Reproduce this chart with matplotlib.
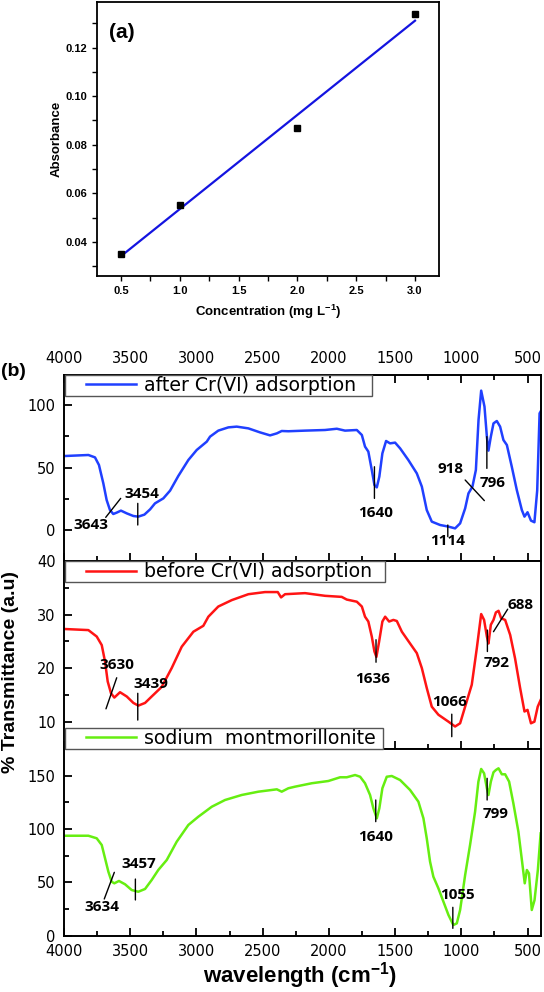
import numpy as np
import matplotlib
matplotlib.use("Agg")
import matplotlib.pyplot as plt
from matplotlib.ticker import MultipleLocator, FormatStrFormatter
from matplotlib.legend_handler import HandlerLine2D

plt.rcParams['mathtext.fontset'] = 'custom'
plt.rcParams['mathtext.rm'] = 'Liberation Sans'
plt.rcParams['mathtext.bf'] = 'Liberation Sans:bold'

# ---------------- data: panel (a) ----------------
conc = [0.5, 1.0, 2.0, 3.0]
absorb = [0.035, 0.055, 0.087, 0.134]

# ---------------- data: panel (b) FTIR spectra ----------------
wn_after = [3992, 3816, 3766, 3736, 3703, 3678, 3653, 3628, 3602, 3570, 3526, 3476, 3439, 3393,
            3350, 3313, 3250, 3199, 3137, 3061, 2998, 2922, 2897, 2835, 2759, 2696, 2608, 2520,
            2444, 2393, 2356, 2306, 2180, 2029, 1940, 1878, 1789, 1751, 1727, 1702, 1676, 1656,
            1638, 1619, 1596, 1568, 1538, 1500, 1462, 1400, 1336, 1298, 1261, 1223, 1160, 1097,
            1047, 1009, 971, 946, 916, 890, 870, 850, 825, 807, 795, 777, 757, 732, 707, 682,
            656, 619, 581, 543, 523, 500, 474, 448, 427, 409, 400]
tr_after = [59.2, 60.0, 58.1, 52.0, 37.3, 24.0, 16.0, 12.8, 13.9, 15.5, 13.3, 11.2, 10.7, 12.3,
            16.5, 21.3, 25.3, 31.5, 43.2, 56.0, 64.0, 70.7, 74.7, 79.5, 82.1, 82.7, 81.3, 78.1,
            75.7, 77.3, 79.2, 79.0, 79.5, 80.0, 81.0, 79.5, 80.0, 76.0, 66.7, 62.7, 48.0, 36.0,
            34.1, 42.7, 61.3, 71.2, 69.3, 69.9, 65.3, 56.0, 45.3, 34.7, 16.0, 6.7, 4.0, 2.7,
            1.3, 5.3, 17.3, 29.3, 34.7, 48.0, 88.0, 111.5, 98.7, 74.7, 63.5, 74.7, 85.3, 87.2,
            82.7, 72.0, 68.0, 50.7, 32.0, 16.0, 10.7, 14.2, 7.5, 6.2, 31.6, 93.3, 95.0]

wn_before = [3992, 3816, 3753, 3715, 3690, 3670, 3645, 3620, 3577, 3526, 3476, 3439, 3388, 3338,
             3262, 3187, 3111, 3023, 2948, 2910, 2835, 2733, 2608, 2482, 2386, 2361, 2331, 2180,
             2029, 1903, 1865, 1789, 1751, 1727, 1702, 1676, 1656, 1641, 1621, 1596, 1575, 1545,
             1513, 1487, 1449, 1387, 1336, 1298, 1261, 1223, 1173, 1097, 1047, 1009, 959, 921,
             883, 850, 828, 807, 795, 777, 757, 739, 719, 699, 669, 631, 594, 556, 523, 500,
             474, 448, 423, 400]
tr_before = [27.3, 27.1, 25.9, 24.3, 21.2, 17.5, 15.3, 14.5, 15.5, 14.7, 13.5, 13.0, 13.5, 14.7,
             16.5, 20.0, 24.0, 26.8, 27.9, 29.6, 31.5, 32.7, 33.8, 34.2, 34.2, 33.2, 33.8, 34.0,
             33.5, 33.3, 32.8, 32.4, 31.5, 29.6, 28.7, 25.9, 23.1, 22.1, 24.9, 28.7, 29.6, 28.7,
             29.0, 28.8, 26.8, 24.6, 22.8, 20.0, 16.3, 12.8, 11.3, 10.0, 9.1, 9.7, 13.8, 16.9,
             23.7, 30.1, 29.0, 25.9, 24.6, 28.1, 29.0, 30.4, 30.7, 29.3, 29.0, 26.2, 21.8, 16.3,
             11.9, 12.2, 9.7, 10.0, 12.8, 14.1]

wn_na = [3992, 3816, 3753, 3715, 3690, 3665, 3640, 3620, 3585, 3539, 3489, 3439, 3388, 3338,
         3288, 3224, 3149, 3061, 2986, 2884, 2784, 2658, 2532, 2393, 2356, 2306, 2255, 2129,
         2004, 1915, 1865, 1802, 1764, 1727, 1689, 1664, 1638, 1619, 1596, 1563, 1525, 1462,
         1387, 1324, 1286, 1261, 1236, 1211, 1173, 1135, 1097, 1060, 1034, 1009, 971, 934, 896,
         871, 850, 828, 807, 795, 777, 757, 739, 719, 694, 669, 639, 607, 569, 538, 521, 505,
         489, 468, 447, 422, 401]
tr_na = [93.7, 93.7, 91.3, 85.0, 72.5, 60.0, 50.6, 49.1, 51.3, 48.2, 42.8, 41.2, 43.8, 52.2,
         61.6, 71.0, 88.1, 103.8, 111.5, 120.9, 127.2, 131.9, 135.0, 137.2, 135.0, 138.2, 139.7,
         142.9, 145.0, 148.5, 148.5, 150.6, 149.0, 142.9, 131.9, 119.4, 110.0, 119.4, 138.2,
         149.0, 149.7, 145.9, 136.6, 125.6, 110.0, 91.3, 69.4, 55.3, 44.4, 31.9, 19.4, 10.0,
         11.6, 24.1, 56.9, 85.0, 116.2, 144.4, 156.3, 152.2, 138.2, 131.9, 144.4, 153.2, 155.3,
         156.9, 151.3, 151.3, 144.4, 124.1, 97.5, 66.3, 49.1, 61.6, 58.4, 24.1, 33.4, 61.6, 95.9]

series_labels = ['after Cr(VI) adsorption', 'before Cr(VI) adsorption', 'sodium  montmorillonite']
xtick_labels_b = ['4000', '3500', '3000', '2500', '2000', '1500', '1000', '500']

# peak annotations: label, text position, leader line (x0, y0, x1, y1)
ann_after = [('3643', (3798, 4.0), (3685, 10.1, 3572, 25.3)),
             ('3454', (3413, 28.5), (3443, 21.3, 3443, 4.0)),
             ('1640', (1646, 13.3), (1656, 50.6, 1656, 25.3)),
             ('1114', (1102, -8.5), (1102, 4.0, 1102, -5.3)),
             ('918', (1080, 48.5), (971, 40.0, 826, 23.5)),
             ('796', (765, 37.3), (807, 74.7, 807, 49.3))]
ann_before = [('3630', (3602, 20.6), (3683, 12.4, 3602, 18.2)),
              ('3439', (3345, 17.1), (3443, 15.3, 3443, 10.3)),
              ('1636', (1671, 18.0), (1644, 25.3, 1644, 21.1)),
              ('1066', (1092, 13.6), (1072, 11.4, 1072, 7.2)),
              ('792', (732, 20.9), (803, 27.1, 803, 23.1)),
              ('688', (552, 31.8), (757, 26.8, 650, 31.0))]
ann_na = [('3634', (3715, 27.2), (3696, 34.4, 3620, 59.4)),
          ('3457', (3434, 66.9), (3461, 53.1, 3461, 33.5)),
          ('1640', (1646, 92.8), (1646, 127.2, 1646, 106.9)),
          ('1055', (1029, 38.2), (1064, 26.6, 1064, 6.9)),
          ('799', (745, 113.8), (805, 147.5, 805, 127.2))]

W, H = 544, 992
fig = plt.figure(figsize=(W / 100, H / 100), dpi=100)


def frac(x0, y0, x1, y1):
    return [x0 / W, 1 - y1 / H, (x1 - x0) / W, (y1 - y0) / H]


# ---------------- panel (a) ----------------
sans = 'Liberation Sans'
axa = fig.add_axes(frac(97, 2.3, 439, 276))
fit = np.polyfit(conc, absorb, 1)
xs = np.array([conc[0], conc[-1]])
axa.plot(xs, np.polyval(fit, xs), color='#1414e0', lw=1.6, zorder=2)
axa.plot(conc, absorb, 's', color='black', ms=5, zorder=3)
axa.set_xlim(0.296, 3.204)
axa.set_ylim(0.0259, 0.1387)
axa.xaxis.set_major_locator(MultipleLocator(0.5))
axa.xaxis.set_minor_locator(MultipleLocator(0.25))
axa.yaxis.set_major_locator(MultipleLocator(0.02))
axa.yaxis.set_minor_locator(MultipleLocator(0.01))
axa.xaxis.set_major_formatter(FormatStrFormatter('%.1f'))
axa.yaxis.set_major_formatter(FormatStrFormatter('%.2f'))
axa.tick_params(which='both', direction='out', length=3.5, width=1.0, top=False, right=False)
for lab in axa.get_xticklabels() + axa.get_yticklabels():
    lab.set_fontfamily(sans)
    lab.set_fontweight('bold')
    lab.set_fontsize(8)
for s in axa.spines.values():
    s.set_linewidth(1.3)
axa.set_ylabel('Absorbance', fontfamily=sans, fontweight='bold', fontsize=9.5, labelpad=2)
axa.set_xlabel(r'Concentration (mg L$^{\mathbf{-1}}$)', fontfamily=sans, fontweight='bold',
               fontsize=9.5, labelpad=5)
axa.text(0.505, 0.1263, '(a)', fontfamily=sans, fontweight='bold', fontsize=15,
         ha='center', va='center')


# ---------------- panel (b) ----------------
class GapHandler(HandlerLine2D):
    def get_xdata(self, legend, xdescent, ydescent, width, height, fontsize):
        x0 = -xdescent + 0.28 * width
        x1 = -xdescent + width
        return np.array([x0, x1]), np.array([(x0 + x1) / 2])


L, R = 64, 541.3
ax1 = fig.add_axes(frac(L, 374.5, R, 561))
ax2 = fig.add_axes(frac(L, 561, R, 749))
ax3 = fig.add_axes(frac(L, 749, R, 935.7))

colors = ['#2040ff', '#ff1414', '#66ee11']
legend_widths = [0.643, 0.670, 0.667]
specs = [(ax1, wn_after, tr_after, (-24.8, 124.4), 50, 25, ann_after),
         (ax2, wn_before, tr_before, (4.9, 40.0), 10, 5, ann_before),
         (ax3, wn_na, tr_na, (0, 175.0), 50, 25, ann_na)]

tickfont = 'DejaVu Sans'
annfont = 'Open Sans'
for i, (ax, wn, tr, ylim, maj, mnr, anns) in enumerate(specs):
    h, = ax.plot(wn, tr, color=colors[i], lw=1.8, label=series_labels[i],
                 solid_joinstyle='round')
    ax.set_xlim(4000, 396)
    ax.set_ylim(*ylim)
    ax.xaxis.set_major_locator(MultipleLocator(500))
    ax.xaxis.set_minor_locator(MultipleLocator(250))
    ax.yaxis.set_major_locator(MultipleLocator(maj))
    ax.yaxis.set_minor_locator(MultipleLocator(mnr))
    ax.yaxis.set_major_formatter(FormatStrFormatter('%d'))
    ax.tick_params(which='major', direction='in', length=6, width=1.3, pad=6)
    ax.tick_params(which='minor', direction='in', length=3.5, width=1.3)
    ax.tick_params(axis='y', which='both', left=True, right=False)
    for s in ax.spines.values():
        s.set_linewidth(1.4)
    for lab, (tx, ty), (x0, y0, x1, y1) in anns:
        ax.annotate('', xy=(x1, y1), xytext=(x0, y0),
                    arrowprops=dict(arrowstyle='-', color='black', lw=1.0,
                                    shrinkA=0, shrinkB=0))
        ax.text(tx, ty, lab, fontfamily=annfont, fontweight='bold', fontsize=11,
                ha='center', va='center')
    if i < 2:
        loc, anchor = 'upper left', (0.002, 0.0, legend_widths[i], 0.999)
    else:
        loc, anchor = 'lower left', (0.002, 1.0, legend_widths[i], 0.2)
    leg = ax.legend(handles=[h], loc=loc, bbox_to_anchor=anchor, mode='expand',
                    borderaxespad=0, frameon=True, fancybox=False, edgecolor='#555555',
                    framealpha=1, prop=dict(family=tickfont, size=13.6), handlelength=3.7,
                    handletextpad=0.45, borderpad=0.06, handler_map={h: GapHandler()})
    leg.get_frame().set_linewidth(1.0)
    for lab in ax.get_xticklabels() + ax.get_yticklabels():
        lab.set_fontfamily(tickfont)
        lab.set_fontsize(10.5)

ax1.tick_params(axis='x', which='both', top=True, bottom=True, labeltop=True, labelbottom=False)
ax2.tick_params(axis='x', which='both', top=False, bottom=True, labeltop=False, labelbottom=False)
ax3.tick_params(axis='x', which='both', top=False, bottom=True, labeltop=False, labelbottom=True)
for ax in (ax1, ax3):
    ax.set_xticks([4000 - 500 * k for k in range(len(xtick_labels_b))])
    ax.set_xticklabels(xtick_labels_b, fontfamily=tickfont, fontsize=10.5)
    ax.set_xlim(4000, 396)

fig.text(13 / W, 1 - 371 / H, '(b)', fontfamily=sans, fontweight='bold', fontsize=14,
         ha='center', va='center')
fig.text(11 / W, 1 - 672 / H, '% Transmittance (a.u)', fontfamily=sans, fontweight='bold',
         fontsize=14, rotation=90, ha='center', va='center')
fig.text(300 / W, 1 - 976 / H, r'wavelength (cm$^{\mathbf{-1}}$)', fontfamily=sans,
         fontweight='bold', fontsize=16, ha='center', va='center')

fig.savefig('out.png', dpi=100)
